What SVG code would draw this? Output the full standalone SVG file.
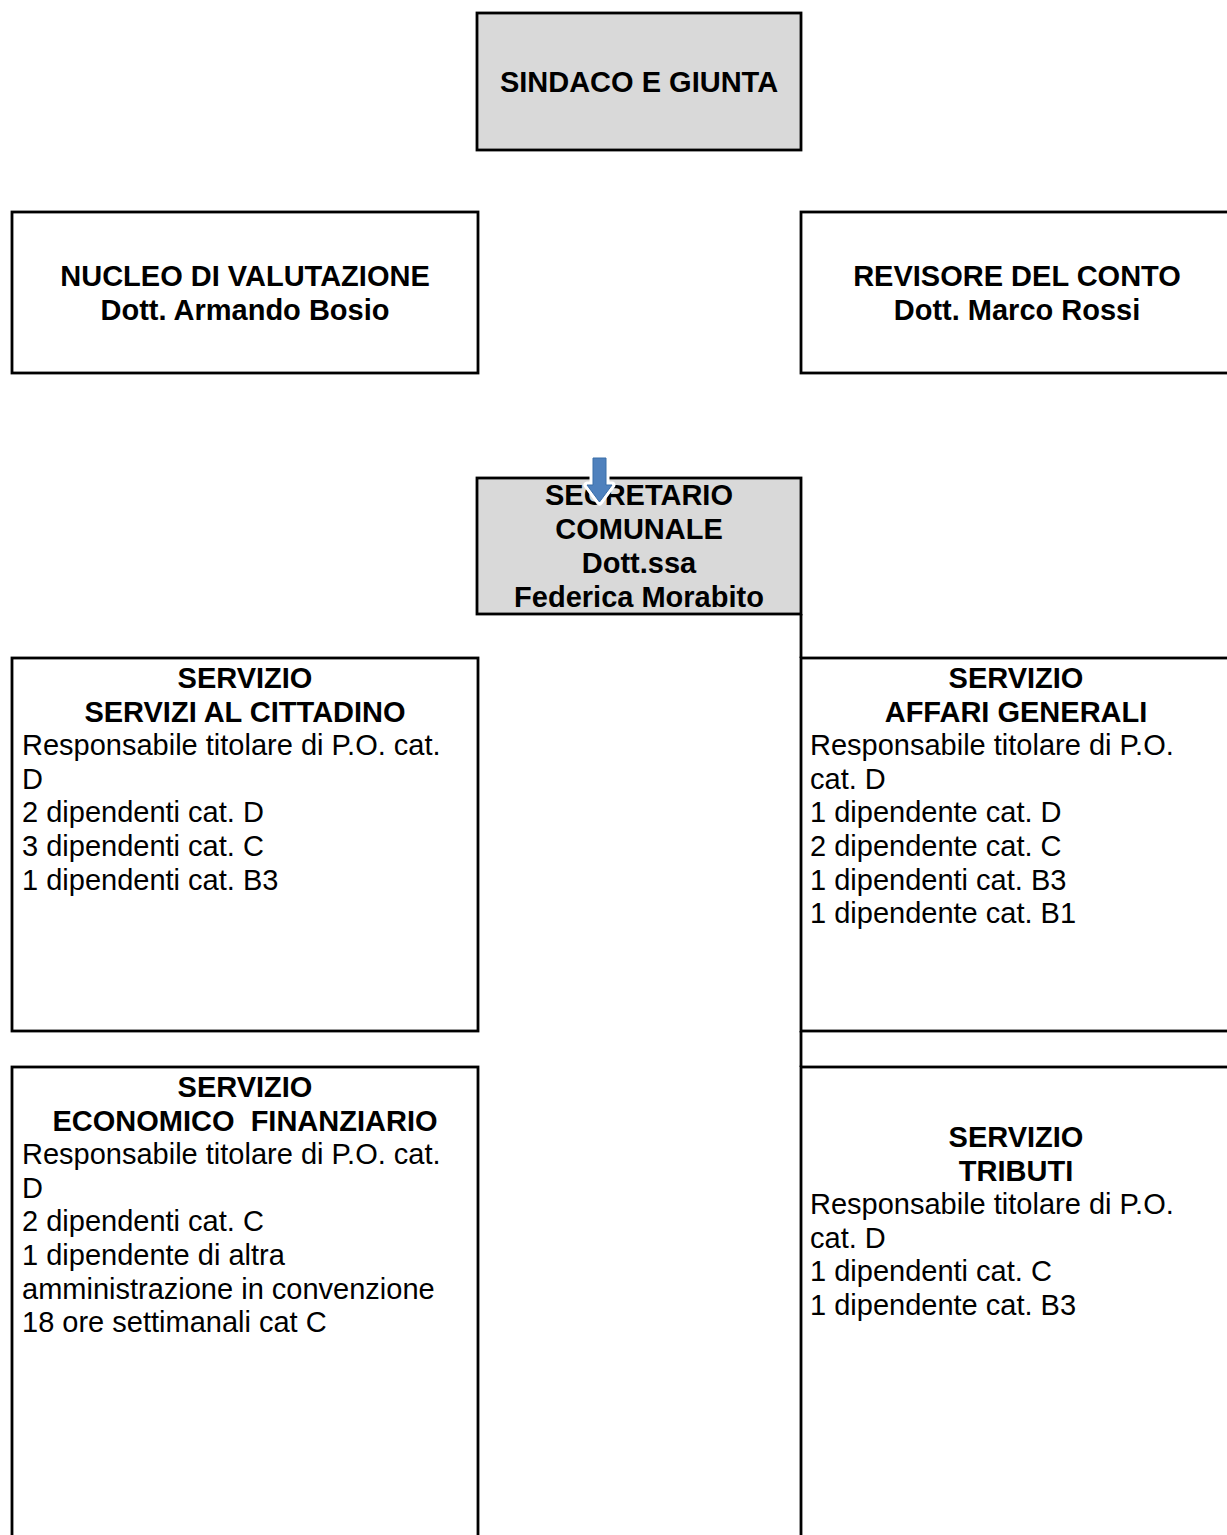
<svg xmlns="http://www.w3.org/2000/svg" width="1227" height="1535" viewBox="0 0 1227 1535">
<style>
.box{fill:#ffffff;stroke:#000000;stroke-width:2.8}
.gray{fill:#d9d9d9;stroke:#000000;stroke-width:2.8}
.b{font-family:"Liberation Sans",Arial,sans-serif;font-size:29px;font-weight:bold;fill:#000000;text-anchor:middle}
.r{font-family:"Liberation Sans",Arial,sans-serif;font-size:29px;fill:#000000}
.conn{stroke:#000000;stroke-width:2.8;fill:none}
</style>
<rect width="1227" height="1535" fill="#ffffff"/>
<g id="connectors">
<line class="conn" x1="801" y1="614" x2="801" y2="658"/>
<line class="conn" x1="801" y1="1031" x2="801" y2="1067"/>
</g>
<g id="sindaco">
<rect class="gray" x="477" y="13" width="324" height="137"/>
<text class="b" x="639" y="92">SINDACO E GIUNTA</text>
</g>
<g id="nucleo">
<rect class="box" x="12" y="212" width="466" height="161"/>
<text class="b" x="245" y="286">NUCLEO DI VALUTAZIONE</text>
<text class="b" x="245" y="320">Dott. Armando Bosio</text>
</g>
<g id="revisore">
<rect class="box" x="801" y="212" width="440" height="161"/>
<text class="b" x="1017" y="286">REVISORE DEL CONTO</text>
<text class="b" x="1017" y="320">Dott. Marco Rossi</text>
</g>
<g id="segretario">
<rect class="gray" x="477" y="478" width="324" height="136"/>
<text class="b" x="639" y="505">SECRETARIO</text>
<text class="b" x="639" y="539">COMUNALE</text>
<text class="b" x="639" y="573">Dott.ssa</text>
<text class="b" x="639" y="607">Federica Morabito</text>
</g>
<g id="arrow">
<polygon points="593,458 606,458 606,485 612,485 599.5,502 587,485 593,485" fill="#ffffff" stroke="#ffffff" stroke-width="7" stroke-linejoin="round"/>
<polygon points="593,458 606,458 606,485 612,485 599.5,502 587,485 593,485" fill="#4f81bd" stroke="#3b6ea8" stroke-width="1"/>
</g>
<g id="servizi-cittadino">
<rect class="box" x="12" y="658" width="466" height="373"/>
<text class="b" x="245" y="688">SERVIZIO</text>
<text class="b" x="245" y="721.6">SERVIZI AL CITTADINO</text>
<text class="r" x="22" y="755.2">Responsabile titolare di P.O. cat.</text>
<text class="r" x="22" y="788.8">D</text>
<text class="r" x="22" y="822.4">2 dipendenti cat. D</text>
<text class="r" x="22" y="856">3 dipendenti cat. C</text>
<text class="r" x="22" y="889.6">1 dipendenti cat. B3</text>
</g>
<g id="affari-generali">
<rect class="box" x="801" y="658" width="440" height="373"/>
<text class="b" x="1016" y="688">SERVIZIO</text>
<text class="b" x="1016" y="721.6">AFFARI GENERALI</text>
<text class="r" x="810" y="755.2">Responsabile titolare di P.O.</text>
<text class="r" x="810" y="788.8">cat. D</text>
<text class="r" x="810" y="822.4">1 dipendente cat. D</text>
<text class="r" x="810" y="856">2 dipendente cat. C</text>
<text class="r" x="810" y="889.6">1 dipendenti cat. B3</text>
<text class="r" x="810" y="923.2">1 dipendente cat. B1</text>
</g>
<g id="economico-finanziario">
<rect class="box" x="12" y="1067" width="466" height="500"/>
<text class="b" x="245" y="1097">SERVIZIO</text>
<text class="b" x="245" y="1130.6" style="white-space:pre">ECONOMICO  FINANZIARIO</text>
<text class="r" x="22" y="1164.2">Responsabile titolare di P.O. cat.</text>
<text class="r" x="22" y="1197.8">D</text>
<text class="r" x="22" y="1231.4">2 dipendenti cat. C</text>
<text class="r" x="22" y="1265">1 dipendente di altra</text>
<text class="r" x="22" y="1298.6">amministrazione in convenzione</text>
<text class="r" x="22" y="1332.2">18 ore settimanali cat C</text>
</g>
<g id="tributi">
<rect class="box" x="801" y="1067" width="440" height="500"/>
<text class="b" x="1016" y="1147">SERVIZIO</text>
<text class="b" x="1016" y="1180.6">TRIBUTI</text>
<text class="r" x="810" y="1214.2">Responsabile titolare di P.O.</text>
<text class="r" x="810" y="1247.8">cat. D</text>
<text class="r" x="810" y="1281.4">1 dipendenti cat. C</text>
<text class="r" x="810" y="1315">1 dipendente cat. B3</text>
</g>
</svg>
